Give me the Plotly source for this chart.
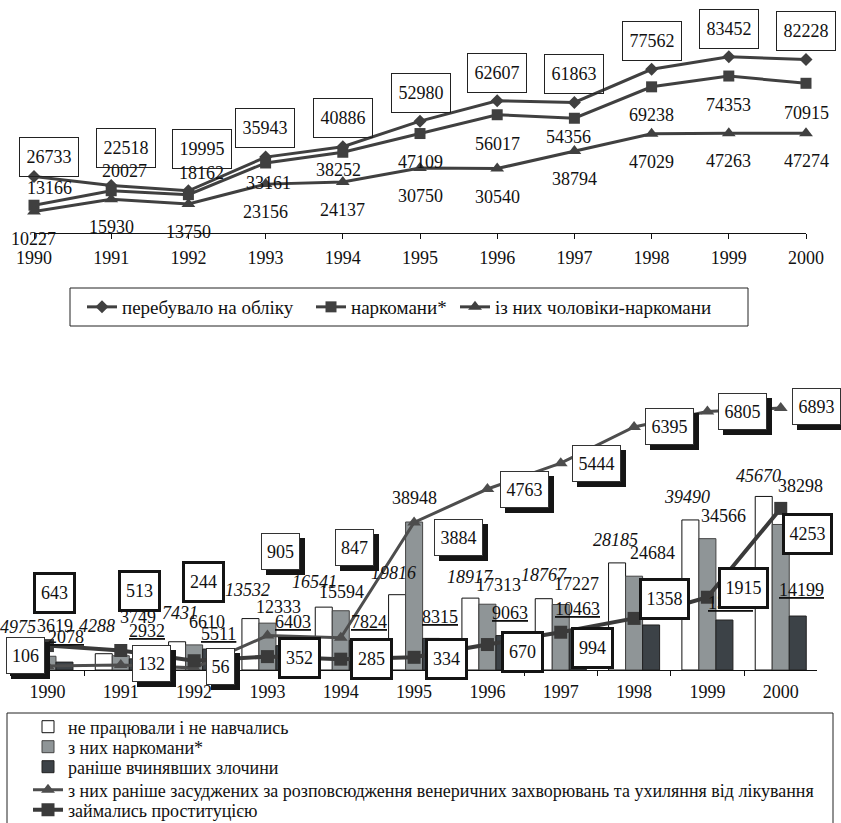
import plotly.graph_objects as go

# ---------------- data ----------------
years = ['1990', '1991', '1992', '1993', '1994', '1995', '1996', '1997', '1998', '1999', '2000']
years_num = [1990, 1991, 1992, 1993, 1994, 1995, 1996, 1997, 1998, 1999, 2000]

# top chart
registered = [26733, 22518, 19995, 35943, 40886, 52980, 62607, 61863, 77562, 83452, 82228]
addicts = [13166, 20027, 18162, 33161, 38252, 47109, 56017, 54356, 69238, 74353, 70915]
male_addicts = [10227, 15930, 13750, 23156, 24137, 30750, 30540, 38794, 47029, 47263, 47274]

# bottom chart
not_working = [4975, 4288, 7431, 13532, 16541, 19816, 18917, 18767, 28185, 39490, 45670]
nw_addicts = [3619, 3749, 6610, 12333, 15594, 38948, 17313, 17227, 24684, 34566, 38298]
prev_crimes = [2078, 2932, 5511, 6403, 7824, 8315, 9063, 10463, 11850, 13150, 14199]
venereal = [106, 132, 56, 905, 847, 3884, 4763, 5444, 6395, 6805, 6893]
prostitution = [643, 513, 244, 352, 285, 334, 670, 994, 1358, 1915, 4253]

names_top = ['перебувало на обліку', 'наркомани*', 'із них чоловіки-наркомани']
names_bottom = ['не працювали і не навчались', 'з них наркомани*', 'раніше вчинявших злочини',
                'з них раніше засуджених за розповсюдження венеричних захворювань та ухиляння від лікування',
                'займались проституцією']

# ---------------- label offsets (pixels) ----------------
off_registered = [(15, 20), (15, 37), (14, 42), (-1, 29), (0, 29), (1, 28), (0, 28), (0, 28), (0, 28), (0, 28), (0, 28)]
off_addicts = [(15, 17), (13, 20), (13, 22), (3, -20), (-4, -18), (0, -28), (0, -29), (-6, -19), (0, -28), (0, -29), (0, -30)]
off_male = [(-1, -28)] + [(0, -28)] * 10
off_white = [(-29, 24), (-24, 28), (-14, 29), (-20, 29), (-26, 25), (-21, 22), (-17, 21), (-17, 24), (-19, 23), (-20, 23), (-22, 20)]
off_gray = [(8, 30), (17, 39), (13, 23), (11, 16), (1, 19), (0, 24), (11, 19), (16, 21), (18, 23), (16, 23), (20, 38)]
off_dark = [(19, 25), (26, 28), (24, 15), (26, 24), (28, 18), (26, 21), (23, 23), (17, 21), (30, 26), (23, 17), (21, 26)]
off_ven = [(-22, 10), (31, 1), (26, 1), (13, 84), (14, 90), (44, -15), (37, 0), (36, 0), (35, 0), (35, 0), (36, 2)]
off_pros = [(7, 53), (19, 60), (9, 79), (32, -1), (31, 0), (32, -2), (35, -7), (32, -16), (30, 19), (36, 9), (27, -26)]

# legend placement (pixels): item left x, row centre y
top_leg_x = [82, 311, 455]
top_leg_y = 307
bot_leg_x = 28
bot_leg_y = [727, 747, 767, 790, 810]

W, H = 841, 823
FONT = 'Liberation Serif, Times New Roman, serif'
LINE = '#404040'
TXT = '#111111'


def fx(v):
    return v / W


def fy(v):
    return 1 - v / H


fig = go.Figure()

# ---------------- top chart ----------------
top_symbols = ['diamond', 'square', 'triangle-up']
top_sizes = [10, 11, 12]
for k, vals in enumerate([registered, addicts, male_addicts]):
    fig.add_trace(go.Scatter(x=years_num, y=vals, name=names_top[k], mode='lines+markers',
                             line=dict(color=LINE, width=3),
                             marker=dict(symbol=top_symbols[k], size=top_sizes[k], color=LINE),
                             xaxis='x', yaxis='y', legend='legend' if k == 0 else 'legend%d' % (k + 1),
                             cliponaxis=False))

# ---------------- bottom chart ----------------
bar_fill = ['#ffffff', '#8f9597', '#3c4247']
bar_edge = ['#111111', '#444444', '#222222']
for k, vals in enumerate([not_working, nw_addicts, prev_crimes]):
    fig.add_trace(go.Bar(x=years, y=vals, name=names_bottom[k], xaxis='x2', yaxis='y2',
                         legend='legend%d' % (k + 4),
                         marker=dict(color=bar_fill[k], line=dict(color=bar_edge[k], width=1))))
fig.add_trace(go.Scatter(x=years, y=venereal, name=names_bottom[3], mode='lines+markers',
                         line=dict(color='#4d4d4d', width=3),
                         marker=dict(symbol='triangle-up', size=12, color='#4d4d4d'),
                         xaxis='x2', yaxis='y3', legend='legend7', cliponaxis=False))
fig.add_trace(go.Scatter(x=years, y=prostitution, name=names_bottom[4], mode='lines+markers',
                         line=dict(color='#3a3a3a', width=4),
                         marker=dict(symbol='square', size=13, color='#3a3a3a'),
                         xaxis='x2', yaxis='y3', legend='legend8', cliponaxis=False))

# ---------------- annotations ----------------
anns = []


def lab(x, y, text, xref, yref, off, size=18, **kw):
    d = dict(x=x, y=y, xref=xref, yref=yref, text=text, showarrow=False,
             xshift=off[0], yshift=off[1], font=dict(family=FONT, size=size, color=TXT))
    d.update(kw)
    anns.append(d)


# top chart labels
for i, yr in enumerate(years_num):
    lab(yr, addicts[i], str(addicts[i]), 'x', 'y', off_addicts[i])
    lab(yr, male_addicts[i], str(male_addicts[i]), 'x', 'y', off_male[i])
for i, yr in enumerate(years_num):
    lab(yr, registered[i], str(registered[i]), 'x', 'y', off_registered[i],
        bordercolor='#222222', borderwidth=1, borderpad=2, width=54, height=34)

# bottom bar labels (x given as category index)
for i in range(len(years)):
    lab(i, not_working[i], '<i>%d</i>' % not_working[i], 'x2', 'y2', off_white[i])
    lab(i, nw_addicts[i], str(nw_addicts[i]), 'x2', 'y2', off_gray[i])
    lab(i, prev_crimes[i], '<u>%d</u>' % prev_crimes[i], 'x2', 'y2', off_dark[i])

# venereal (shadowed boxes)
for i in range(len(years)):
    t = str(venereal[i])
    w = 10 * len(t) + 5
    o = off_ven[i]
    lab(i, venereal[i], t, 'x2', 'y3', (o[0] + 5, o[1] - 5), bgcolor='#151515', bordercolor='#151515',
        borderwidth=1, borderpad=1, width=w, height=33)
    lab(i, venereal[i], t, 'x2', 'y3', o, bgcolor='#ffffff', bordercolor='#333333',
        borderwidth=1, borderpad=1, width=w, height=33)

# prostitution (thick boxes)
for i in range(len(years)):
    t = str(prostitution[i])
    w = 8 * len(t) + 11
    lab(i, prostitution[i], t, 'x2', 'y3', off_pros[i], bgcolor='#ffffff', bordercolor='#141414',
        borderwidth=3, borderpad=1, width=w, height=34)


def axis_common(standoff):
    return dict(showgrid=False, zeroline=False, showline=True, linecolor=TXT, linewidth=1,
                ticks='outside', ticklen=5, tickcolor=TXT, automargin=False,
                ticklabelstandoff=standoff,
                tickfont=dict(family=FONT, size=18, color=TXT))


def one_legend(x, y, size):
    return dict(x=fx(x), y=fy(y), xanchor='left', yanchor='middle', orientation='h',
                borderwidth=0, bgcolor='rgba(0,0,0,0)',
                font=dict(family=FONT, size=size, color=TXT))


legends = {}
for k in range(3):
    legends['legend' if k == 0 else 'legend%d' % (k + 1)] = one_legend(top_leg_x[k], top_leg_y, 19)
for k in range(5):
    legends['legend%d' % (k + 4)] = one_legend(bot_leg_x, bot_leg_y[k], 18)

shapes = [
    dict(type='rect', xref='paper', yref='paper', x0=fx(70), x1=fx(748), y0=fy(326), y1=fy(288),
         line=dict(color='#222222', width=1), fillcolor='rgba(0,0,0,0)'),
    dict(type='rect', xref='paper', yref='paper', x0=fx(7), x1=fx(833), y0=fy(830), y1=fy(713),
         line=dict(color='#222222', width=1), fillcolor='rgba(0,0,0,0)'),
]

fig.update_layout(
    width=W, height=H, autosize=False,
    margin=dict(l=0, r=0, t=0, b=0, pad=0, autoexpand=False),
    paper_bgcolor='#ffffff', plot_bgcolor='rgba(0,0,0,0)',
    font=dict(family=FONT, size=18, color=TXT),
    barmode='group', bargap=0.304, bargroupgap=0,
    xaxis=dict(domain=[fx(34), fx(806)], range=[1990, 2000], tickvals=years_num, ticktext=years,
               anchor='y', **axis_common(3)),
    yaxis=dict(domain=[fy(233), fy(43)], range=[0, 90000], visible=False, anchor='x'),
    xaxis2=dict(domain=[fx(10.8), fx(817.4)], type='category', categoryorder='array',
                categoryarray=years, range=[-0.5, 10.5],
                tickson='boundaries', anchor='y2', **axis_common(5)),
    yaxis2=dict(domain=[fy(670), fy(404)], range=[0, 70000], visible=False, anchor='x2'),
    yaxis3=dict(range=[0, 7000], overlaying='y2', visible=False, anchor='x2', side='right'),
    annotations=anns,
    shapes=shapes,
    showlegend=True,
    **legends,
)

fig.write_html('out.html', config={'displayModeBar': False},
               post_script="document.body.style.margin='0';document.body.style.overflow='hidden';")
